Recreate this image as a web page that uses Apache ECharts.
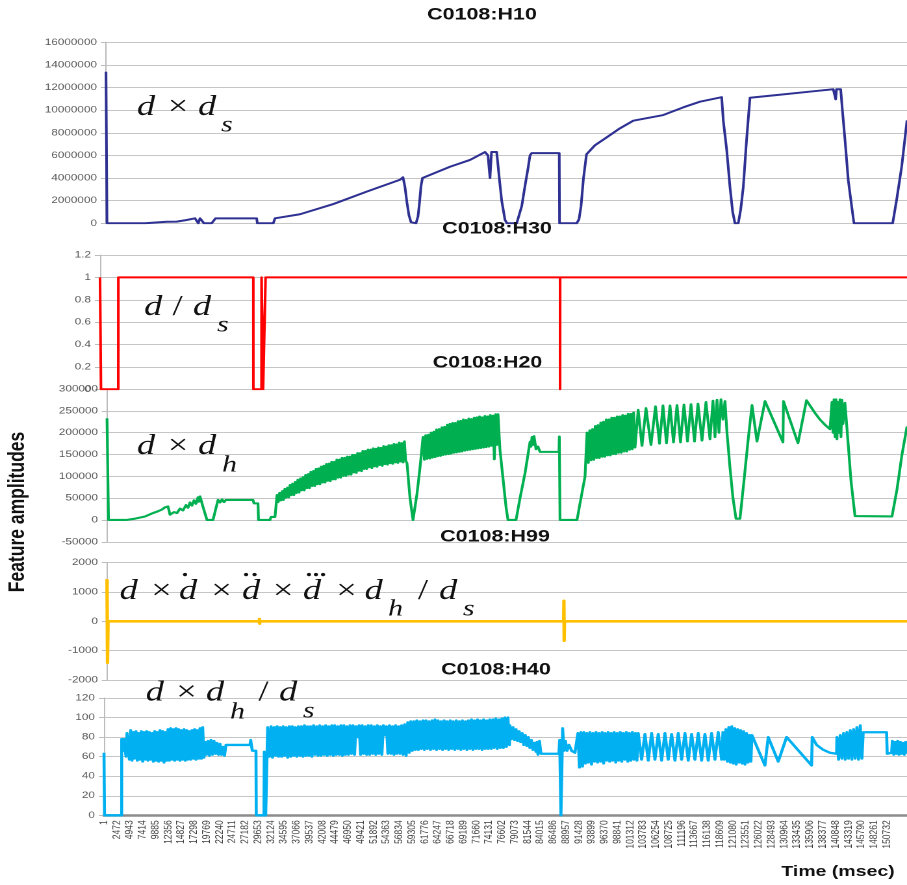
<!DOCTYPE html>
<html>
<head>
<meta charset="utf-8">
<script src="https://cdn.jsdelivr.net/npm/echarts@6.0.0/dist/echarts.min.js"></script>
<style>
html, body { margin: 0; padding: 0; background: #fff; overflow: hidden; }
/* the chart is laid out on a narrower canvas and widened, giving the wide glyphs of the original export */
#chart { width: 698px; height: 885px; transform: scaleX(1.29943); transform-origin: 0 0; }
</style>
</head>
<body>
<div id="chart"></div>
<script>
// ---------------- data ----------------
// time axis labels (msec)
const timeTicks = [1, 2472, 4943, 7414, 9885, 12356, 14827, 17298, 19769, 22240, 24711, 27182, 29653,
  32124, 34595, 37066, 39537, 42008, 44479, 46950, 49421, 51892, 54363, 56834, 59305, 61776, 64247,
  66718, 69189, 71660, 74131, 76602, 79073, 81544, 84015, 86486, 88957, 91428, 93899, 96370, 98841,
  101312, 103783, 106254, 108725, 111196, 113667, 116138, 118609, 121080, 123551, 126022, 128493,
  130964, 133435, 135906, 138377, 140848, 143319, 145790, 148261, 150732];
const timeRange = [1, 154600];

// value axes: [min, max, step]
const h10Ticks = [0, 16000000, 2000000];
const h30Ticks = [0, 1.2, 0.2];
const h20Ticks = [-50000, 300000, 50000];
const h99Ticks = [-2000, 2000, 1000];
const h40Ticks = [0, 120, 20];

const panelTitles = ['C0108:H10', 'C0108:H30', 'C0108:H20', 'C0108:H99', 'C0108:H40'];

// C0108:H10  [time, value]
const h10 = [[1,13400000],[190,0],[7530,0],[11715,140000],[13645,150000],[15575,290000],[17177,440000],
  [17814,0],[18142,440000],[18586,440000],[18914,0],[20400,0],[21134,440000],[29085,440000],[29201,0],
  [32289,0],[32617,440000],[37442,800000],[43869,1700000],[50315,2800000],[56742,3850000],[57321,4070000],
  [57707,3200000],[58093,1800000],[58479,700000],[58865,100000],[59155,0],[59830,0],[60216,600000],
  [60506,1800000],[60795,3300000],[61085,4000000],[66392,5000000],[70252,5600000],[73147,6300000],
  [73726,6000000],[74112,4000000],[74402,6300000],[75405,6300000],[75907,4000000],[76370,2000000],
  [77007,300000],[77393,0],[79265,0],[80230,1500000],[80867,3300000],[81504,5000000],[81832,6000000],
  [82160,6200000],[87480,6200000],[87530,0],[90845,0],[91290,350000],[91680,1500000],[92160,4000000],
  [92740,6100000],[94377,6900000],[96635,7600000],[99202,8400000],[101769,9070000],[107559,9570000],
  [111419,10250000],[114642,10750000],[118830,11150000],[119139,9100000],[119795,6500000],[120432,3200000],
  [120953,1000000],[121397,0],[122034,0],[122497,1200000],[122999,3200000],[123655,7500000],[124292,11100000],
  [130719,11400000],[137165,11700000],[140369,11850000],[140832,10960000],[140987,11850000],[141797,11850000],
  [142183,9700000],[142627,7400000],[143264,3800000],[143920,1500000],[144364,0],[151833,0],[152605,2100000],
  [153570,5000000],[154600,9100000]];

// C0108:H30
const h30 = [[1,1],[190,0],[3500,0],[3510,1],[29370,1],[29380,0],[30940,0],[30950,1],[31230,1],[31240,0],
  [31710,0],[31720,1],[88130,1],[88140,0],[88150,1],[154600,1]];

// C0108:H20 (values in thousands)
const h20Unit = 1000;
const h20Lead = [[1,233],[290,0],[3672,0],[5411,3],[7344,8],[8696,15],[9856,20],[10629,24],[11208,29],
  [11402,26],[11595,30],[11788,31],[12175,12],[12561,11],[12948,18],[13528,16],[14107,26],[14687,22],
  [15267,34],[15653,28],[16040,40],[16426,33],[16813,45],[17199,37],[17586,52],[17779,42],[17972,54],
  [18552,30],[19325,0],[20485,0],[21451,46],[21837,40],[22224,47],[22610,41],[22997,46],[23383,43],
  [23770,46],[28214,46],[28408,38],[29181,38],[29278,0],[31500,0],[31693,7],[32466,7]];
// dense bursts: evenly sampled between the span's start and end
const h20BurstASpan = [32853, 57723];
const h20BurstA = [57,41,62,45,66,46,71,51,74,52,80,57,83,57,87,62,92,63,95,68,98,68,103,73,105,73,
  110,78,112,78,117,82,118,82,122,86,124,86,128,90,129,89,133,93,133,93,138,97,138,97,142,101,142,101,
  145,104,145,104,149,109,149,108,153,113,153,112,158,117,158,117,161,121,161,119,164,123,163,122,
  166,126,165,124,169,128,168,127,171,130,171,129,174,132,173,131,177,134,176,132,180,136];
const h20Gap1 = [[57975,130],[58555,50],[59135,0],[59424,0],[59908,60],[60487,120]];
const h20BurstBSpan = [61067, 75370];
const h20BurstB = [190,138,194,140,195,141,200,143,202,144,207,146,208,147,212,149,213,150,218,151,
  220,152,222,154,222,155,226,156,227,157,230,159,229,160,232,161,231,162,234,163,235,164,237,165,
  235,166,238,167,237,168,240,170,239,139,242,172];
const h20Gap2 = [[75561,242],[75947,160],[76527,95],[77107,30],[77493,0],[79039,0],[79812,50],[80778,107],
  [81358,150],[81745,179],[81938,168],[82131,190],[82325,172],[82518,192],[82905,162],[83291,168],
  [83678,156],[87349,156],[87407,191],[87542,0],[90828,0],[91407,38],[92374,99]];
const h20BurstCSpan = [92760, 102036];
const h20BurstC = [200,131,205,137,208,138,215,142,217,142,223,145,225,145,230,148,230,148,234,151,
  234,151,237,154,237,154,240,157,239,157,243,161,243,162,246,166];
const h20Tail = [[102650,252],[103385,170],[104158,256],[105124,172],[105994,260],[106767,175],
  [107443,262],[108120,176],[108796,262],[109472,178],[110148,263],[110825,178],[111501,264],
  [112177,180],[112854,265],[113530,180],[114206,266],[114979,182],[115752,270],[116525,185],
  [117105,273],[117491,190],[117878,275],[118264,200],[118651,276],[119037,230],[119424,272],
  [119810,200],[120390,120],[120970,50],[121549,3],[122322,3],[123095,90],[123868,180],[124641,263],
  [125608,180],[127154,272],[130632,178],[130729,272],[133531,176],[135174,274],[136816,245],
  [137782,230],[138748,218],[139715,208],[140101,270],[140294,200],[140488,276],[140681,190],
  [140874,276],[141067,185],[141260,270],[141454,200],[141647,276],[141840,190],[142034,275],
  [142227,220],[142613,268],[143193,180],[143773,90],[144546,9],[151696,8],[152663,70],[153629,150],
  [154600,214]];

// C0108:H99
const h99 = [[1,1440],[100,-1410],[200,0],[13100,0],[13140,50],[13180,0],[29430,0],[29470,80],
  [29510,-80],[29550,0],[58420,0],[58460,40],[58500,0],[88250,0],[88300,700],[88350,-660],[88400,0],
  [154600,0]];

// C0108:H40
const h40Lead = [[1,64],[100,0],[3400,0],[3410,78],[3715,66],[3850,78],[4235,60],[4428,84]];
const h40BurstASpan = [4620, 19250];
const h40BurstA = [86,57,87,56,85,58,86,56,84,57,86,55,85,57,86,56,85,57,84,55,86,56,85,55,87,56,
  86,54,85,56,88,56,89,57,88,56,89,57,88,56,87,57,88,56,87,57,86,57,87,58,88,57,87,58,89,58,90,59];
const h40Gap1 = [[19443,75],[19731,62],[20020,76],[20309,61],[20598,77],[20886,62],[21175,76],
  [21464,63],[21753,74],[22041,62],[22330,73],[22619,62],[22908,70],[23196,61],[23485,72],[28105,72],
  [28240,77],[28433,77],[28548,66],[29260,66],[29318,0],[30800,0],[30858,65],[31089,65],[31127,0],
  [31435,0],[31512,90]];
const h40BurstBSpan = [31570, 78059];
const h40BurstB = [90,60,91,59,90,61,91,60,90,60,91,61,90,59,91,60,91,61,90,60,91,61,
  91,60,92,61,91,61,91,60,92,62,91,61,92,61,91,62,92,61,91,62,92,61,
  92,62,91,62,92,61,92,62,91,62,92,63,92,62,91,80,92,62,92,63,91,62,92,62,
  92,63,91,62,92,63,91,62,92,82,91,63,92,63,91,62,92,63,91,63,92,62,
  93,61,95,64,96,66,96,67,
  97,67,96,68,97,67,97,68,96,67,97,68,98,67,97,68,96,67,97,68,96,67,97,68,96,67,97,68,96,67,97,68,
  96,67,97,68,98,67,97,68,98,68,97,67,98,68,97,68,98,68,98,69,99,68,98,69,99,69,100,70,100,72];
const h40BurstCSpan = [78155, 83160];
const h40BurstC = [92,78,90,77,88,76,86,75,84,72,82,71,80,69,77,67,74,65];
const h40Gap2 = [[83353,75],[83545,62],[83834,76],[84123,63],[84508,63],[87588,63],[87722,77],
  [87876,75],[87973,0],[88069,0],[88300,89],[88550,66],[88839,76],[89128,66],[89513,72],[90032,66],
  [90668,64]];
const h40BurstDSpan = [91245, 102600];
const h40BurstD = [84,49,85,50,85,53,84,54,85,52,84,55,85,54,84,55,85,53,84,56,85,55,84,56,85,54,
  84,56,85,55,84,57,85,55,84,56,85,57,84,56];
const h40Teeth = [[102853,84],[103507,57],[104143,83],[104778,56],[105432,84],[106068,57],[106703,83],
  [107357,56],[107993,84],[108628,57],[109282,83],[109918,56],[110553,84],[111207,57],[111843,84],
  [112478,56],[113132,83],[113768,57],[114403,84],[115057,56],[115693,83],[116328,56],[116982,84],
  [117618,57],[118253,85],[118907,57]];
const h40BurstESpan = [119158, 124548];
const h40BurstE = [85,57,88,55,90,54,91,53,89,52,88,54,87,53,86,52,84,54,82,55];
const h40Saw = [[124740,82],[127243,51],[127878,80],[129803,55],[131420,80],[136232,51],[136348,80],
  [137195,72],[138466,67],[139755,64],[141045,63]];
const h40BurstFSpan = [141103, 145915];
const h40BurstF = [80,57,82,58,84,57,85,58,87,57,88,58,90,57,92,58];
const h40Step = [[146165,85],[150670,85],[150787,63],[151632,64]];
const h40BurstGSpan = [151786, 154600];
const h40BurstG = [76,62,75,63,76,62,75,63,74,62,75,63];

// ---------------- building the series ----------------
function pairs(list, unit) { return list.map(p => [p[0], p[1] * (unit || 1)]); }
function burst(span, vals, unit) {
  const n = vals.length;
  return vals.map((v, i) => [span[0] + (span[1] - span[0]) * i / (n - 1), v * (unit || 1)]);
}
const h20 = [].concat(
  pairs(h20Lead, h20Unit), burst(h20BurstASpan, h20BurstA, h20Unit),
  pairs(h20Gap1, h20Unit), burst(h20BurstBSpan, h20BurstB, h20Unit),
  pairs(h20Gap2, h20Unit), burst(h20BurstCSpan, h20BurstC, h20Unit),
  pairs(h20Tail, h20Unit));
const h40 = [].concat(
  pairs(h40Lead), burst(h40BurstASpan, h40BurstA), pairs(h40Gap1),
  burst(h40BurstBSpan, h40BurstB), burst(h40BurstCSpan, h40BurstC), pairs(h40Gap2),
  burst(h40BurstDSpan, h40BurstD), pairs(h40Teeth), burst(h40BurstESpan, h40BurstE),
  pairs(h40Saw), burst(h40BurstFSpan, h40BurstF), pairs(h40Step), burst(h40BurstGSpan, h40BurstG));

// ---------------- layout ----------------
const W = 698;
const X = v => v * W / 907;          // page x -> canvas x
const sans = '"Liberation Sans", Arial, sans-serif';
const serif = '"Liberation Serif", "Times New Roman", serif';

const panels = [
  { left: 106, top: 42.3, height: 181, ticks: h10Ticks, data: h10, color: '#2E3192', width: 2 },
  { left: 100, top: 255, height: 134.3, ticks: h30Ticks, data: h30, color: '#FF0000', width: 2 },
  { left: 107, top: 389, height: 152.8, ticks: h20Ticks, data: h20, color: '#00B050', width: 2.1 },
  { left: 107, top: 562.7, height: 117.3, ticks: h99Ticks, data: h99, color: '#FFC000', width: 2.6 },
  { left: 104, top: 698, height: 117.3, ticks: h40Ticks, data: h40, color: '#00B0F0', width: 2.3 }
];
const titlePos = [[482, 15], [497, 229], [487.5, 363], [495, 537], [496, 670]];

const chart = echarts.init(document.getElementById('chart'), null, { devicePixelRatio: 2 });

const grid = panels.map(p => ({
  left: X(p.left), right: 0, top: p.top, height: p.height,
  containLabel: false, outerBoundsMode: 'none'
}));

const xAxis = panels.map((p, i) => {
  const last = i === panels.length - 1;
  return {
    type: 'value', gridIndex: i, min: timeRange[0], max: timeRange[1],
    axisLine: { show: last, onZero: false, lineStyle: { color: '#8c8c8c', width: 2.6 } },
    axisTick: { show: false },
    splitLine: { show: false },
    axisLabel: last ? {
      show: true, customValues: timeTicks, rotate: 90, margin: 5,
      fontSize: 8.5, fontFamily: sans, color: '#404040',
      formatter: v => String(v)
    } : { show: false }
  };
});

const yAxis = panels.map((p, i) => ({
  type: 'value', gridIndex: i, min: p.ticks[0], max: p.ticks[1], interval: p.ticks[2],
  axisLine: { show: true, lineStyle: { color: '#bcbcbc', width: 1 } },
  axisTick: { show: true, length: 4, lineStyle: { color: '#bcbcbc' } },
  splitLine: { show: true, lineStyle: { color: '#c6c6c6', width: 1 } },
  axisLabel: {
    fontSize: 9, fontFamily: sans, color: '#595959', margin: 7,
    formatter: v => String(Math.round(v * 1e6) / 1e6)
  }
}));

const series = panels.map((p, i) => ({
  type: 'line', xAxisIndex: i, yAxisIndex: i, data: p.data,
  showSymbol: false, symbol: 'none', silent: true, clip: true, animation: false,
  lineStyle: { color: p.color, width: p.width, join: 'round' },
  itemStyle: { color: p.color }
}));

// formula pieces: [text, page x, baseline y, kind]  kind: i = italic, o = operator, s = subscript
const formulaPieces = [
  ['d',137,117,'i'],['×',178,117,'o'],['d',198,117,'i'],['s',221,133,'s'],
  ['d',144,317,'i'],['/',177.5,317,'o'],['d',193,317,'i'],['s',217,333,'s'],
  ['d',137,456,'i'],['×',178,456,'o'],['d',198,456,'i'],['h',222,473,'s'],
  ['d',119.5,601,'i'],['×',161.5,601,'o'],['d',179,601,'i'],['×',221.5,601,'o'],['d',242,601,'i'],
  ['×',283.2,601,'o'],['d',303,601,'i'],['×',346.5,601,'o'],['d',364.5,601,'i'],['h',388,617,'s'],
  ['/',423,601,'o'],['d',439,601,'i'],['s',463,617,'s'],
  ['.',185,578,'o'],['.',246,578,'o'],['.',254.5,578,'o'],
  ['.',309,578,'o'],['.',316,578,'o'],['.',323,578,'o'],
  ['d',145.7,702.7,'i'],['×',186.5,702.7,'o'],['d',206,702.7,'i'],['h',230,720,'s'],
  ['/',263.5,702.7,'o'],['d',279,702.7,'i'],['s',303,719,'s']
];

function piece(f) {
  const size = f[3] === 's' ? 23 : 28;
  const align = f[3] === 'o' ? 'center' : 'left';
  return {
    type: 'text', x: X(f[1]), y: f[2] - 0.3375 * size, z: 50, silent: true,
    style: {
      text: f[0], fontSize: size, fontFamily: serif,
      fontStyle: f[3] === 'o' ? 'normal' : 'italic', fill: '#111',
      align: align, textAlign: align, verticalAlign: 'middle', textVerticalAlign: 'middle'
    }
  };
}

function label(text, x, y, size, extra) {
  return Object.assign({
    type: 'text', x: x, y: y, z: 60, silent: true,
    style: {
      text: text, fontSize: size, fontWeight: 'bold', fontFamily: sans, fill: '#111',
      align: 'center', textAlign: 'center', verticalAlign: 'middle', textVerticalAlign: 'middle'
    }
  }, extra || {});
}

const graphic = [].concat(
  panelTitles.map((t, i) => label(t, X(titlePos[i][0]), titlePos[i][1], 16.5)),
  [label('Feature amplitudes', X(18), 512, 17.5, { rotation: Math.PI / 2 })],
  [label('Time (msec)', X(838), 872, 15)],
  formulaPieces.map(piece)
);

chart.setOption({
  animation: false,
  backgroundColor: '#ffffff',
  grid: grid,
  xAxis: xAxis,
  yAxis: yAxis,
  series: series,
  graphic: { elements: graphic }
});
</script>
</body>
</html>
